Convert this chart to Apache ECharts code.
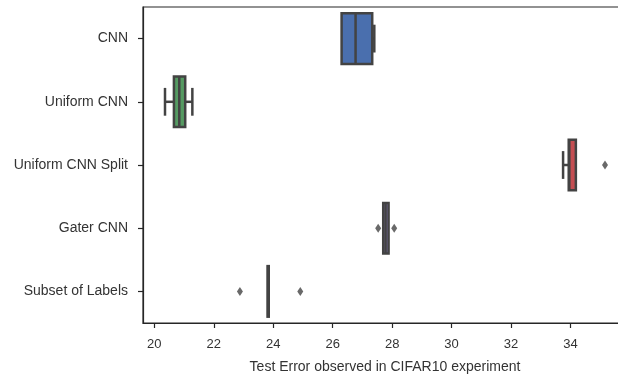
<!DOCTYPE html>
<html>
<head>
<meta charset="utf-8">
<script src="https://cdn.jsdelivr.net/npm/echarts@6/dist/echarts.min.js"></script>
<style>
  html, body { margin: 0; padding: 0; background: #fff; }
  #chart { width: 618px; height: 376px; }
</style>
</head>
<body>
<div id="chart"></div>
<script>
// categories, top to bottom
const categories = ["CNN", "Uniform CNN", "Uniform CNN Split", "Gater CNN", "Subset of Labels"];

// box stats
const whiskerLow = [26.30, 20.36, 33.75, 27.70, 23.81];
const q1 = [26.30, 20.66, 33.94, 27.70, 23.81];
const median = [26.77, 20.84, 33.96, 27.78, 23.83];
const q3 = [27.33, 21.04, 34.18, 27.88, 23.85];
const whiskerHigh = [27.40, 21.28, 34.18, 27.88, 23.85];

// fliers
const outlierValues = [35.16, 27.53, 28.07, 22.88, 24.91];
const outlierCategory = [2, 3, 3, 4, 4];

const xTicks = [20, 22, 24, 26, 28, 30, 32, 34];
const boxColors = ["#4a6fae", "#559a62", "#c44e52", "#8172b2", "#ccb974"];
const edgeColor = "#434343";

const chart = echarts.init(document.getElementById("chart"));

const boxData = categories.map((c, i) => [i, whiskerLow[i], q1[i], median[i], q3[i], whiskerHigh[i]]);
const outlierData = outlierValues.map((v, i) => [v, outlierCategory[i]]);

function renderBox(params, api) {
  const idx = api.value(0);
  const band = api.size([0, 1])[1];
  const half = band * 0.4;
  const capHalf = half * 0.55;
  const cy = api.coord([0, idx])[1];
  const xLow = api.coord([api.value(1), idx])[0];
  const xQ1 = api.coord([api.value(2), idx])[0];
  const xMed = api.coord([api.value(3), idx])[0];
  const xQ3 = api.coord([api.value(4), idx])[0];
  const xHigh = api.coord([api.value(5), idx])[0];
  const lineStyle = { stroke: edgeColor, lineWidth: 2.5 };
  const kids = [];
  if (xQ1 - xLow > 0.5) {
    kids.push({ type: "line", shape: { x1: xLow, y1: cy, x2: xQ1, y2: cy }, style: lineStyle });
    kids.push({ type: "line", shape: { x1: xLow, y1: cy - capHalf, x2: xLow, y2: cy + capHalf }, style: lineStyle });
  }
  if (xHigh - xQ3 > 0.5) {
    kids.push({ type: "line", shape: { x1: xQ3, y1: cy, x2: xHigh, y2: cy }, style: lineStyle });
    kids.push({ type: "line", shape: { x1: xHigh, y1: cy - capHalf, x2: xHigh, y2: cy + capHalf }, style: lineStyle });
  }
  kids.push({
    type: "rect",
    shape: { x: xQ1, y: cy - half, width: xQ3 - xQ1, height: half * 2 },
    style: { fill: boxColors[idx], stroke: edgeColor, lineWidth: 2.5 }
  });
  kids.push({ type: "line", shape: { x1: xMed, y1: cy - half, x2: xMed, y2: cy + half }, style: lineStyle });
  return { type: "group", children: kids };
}

const option = {
  animation: false,
  grid: {
    left: 143, top: 7, width: 484, height: 316,
    outerBoundsMode: "none",
    show: true, borderColor: "#262626", borderWidth: 1.2
  },
  xAxis: {
    type: "value",
    min: 19.62,
    max: 35.9,
    name: "Test Error observed in CIFAR10 experiment",
    nameLocation: "middle",
    nameGap: 37,
    nameTextStyle: { fontSize: 14, color: "#333", fontFamily: "Liberation Sans" },
    splitLine: { show: false },
    axisLine: { show: true, lineStyle: { color: "#262626", width: 1.2 } },
    axisTick: { show: true, length: 5, customValues: xTicks, lineStyle: { color: "#262626", width: 1.2 } },
    axisLabel: { customValues: xTicks, fontSize: 13, color: "#333", margin: 15, fontFamily: "Liberation Sans" }
  },
  yAxis: {
    type: "category",
    data: categories,
    inverse: true,
    axisLine: { show: true, lineStyle: { color: "#262626", width: 1.2 } },
    axisTick: { show: true, length: 5, alignWithLabel: true, lineStyle: { color: "#262626", width: 1.2 } },
    axisLabel: { fontSize: 14, color: "#333", margin: 15, fontFamily: "Liberation Sans" },
    splitLine: { show: false }
  },
  series: [
    {
      type: "custom",
      renderItem: renderBox,
      encode: { x: [1, 2, 3, 4, 5], y: 0 },
      data: boxData
    },
    {
      type: "scatter",
      symbol: "diamond",
      symbolSize: [6, 9],
      itemStyle: { color: edgeColor },
      data: outlierData
    }
  ]
};

chart.setOption(option);
</script>
</body>
</html>
